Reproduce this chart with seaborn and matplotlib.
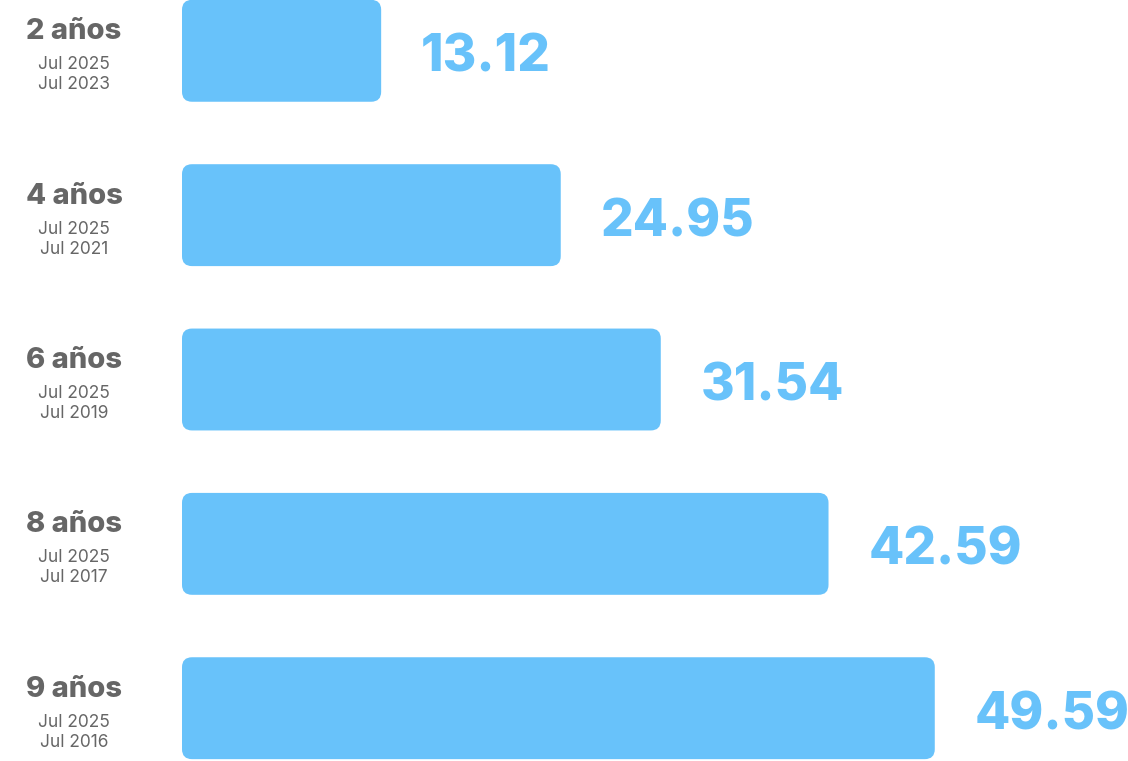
import matplotlib.pyplot as plt
from matplotlib.patches import FancyBboxPatch
import matplotlib.transforms as mtransforms
import pandas as pd
import seaborn as sns

periods = ['2 años', '4 años', '6 años', '8 años', '9 años']
start_labels = ['Jul 2025', 'Jul 2025', 'Jul 2025', 'Jul 2025', 'Jul 2025']
end_labels = ['Jul 2023', 'Jul 2021', 'Jul 2019', 'Jul 2017', 'Jul 2016']
values = [13.12, 24.95, 31.54, 42.59, 49.59]

df = pd.DataFrame({'periodo': periods, 'valor': values})

sns.set_theme(style='white')
plt.rcParams['font.family'] = ['Inter', 'DejaVu Sans']

bar_color = '#68C2FA'
gray = '#666666'

W, H = 1128, 761
fig = plt.figure(figsize=(W / 100, H / 100), dpi=100)
left_px = 182
ax = fig.add_axes([left_px / W, 0, 1 - left_px / W, 1])

sns.barplot(data=df, x='valor', y='periodo', orient='h', color=bar_color,
            width=0.62, saturation=1, ax=ax)

px_per_x = 15.18
xmax = (W - left_px) / px_per_x
ax.set_xlim(0, xmax)
ax.set_ylim(4 + 53 / 165, -51 / 165)
ax.axis('off')

# rounded bars
x_per_px = 1 / px_per_x
y_per_px = 1 / 165
radius_px = 10
for p in list(ax.patches):
    x0, y0, w, h = p.get_x(), p.get_y(), p.get_width(), p.get_height()
    p.remove()
    ax.add_patch(FancyBboxPatch((x0, y0), w, h,
                                boxstyle=f'round,pad=0,rounding_size={radius_px * x_per_px}',
                                mutation_aspect=y_per_px / x_per_px,
                                facecolor=bar_color, edgecolor='none'))

# value labels
for i, v in enumerate(values):
    ax.text(v + 40 * x_per_px, i + 2 * y_per_px, f'{v:.2f}', color=bar_color,
            fontsize=37, fontweight='heavy', ha='left', va='center_baseline')

# left labels
trans = mtransforms.blended_transform_factory(fig.transFigure, ax.transData)
label_x = 74 / W
for i in range(len(periods)):
    ax.text(label_x, i - 22 * y_per_px, periods[i], transform=trans, color=gray,
            fontsize=21, fontweight='heavy', ha='center', va='center_baseline')
    ax.text(label_x, i + 12 * y_per_px, start_labels[i], transform=trans, color=gray,
            fontsize=12.5, ha='center', va='center_baseline')
    ax.text(label_x, i + 32 * y_per_px, end_labels[i], transform=trans, color=gray,
            fontsize=12.5, ha='center', va='center_baseline')

fig.savefig('out.png', dpi=100)
